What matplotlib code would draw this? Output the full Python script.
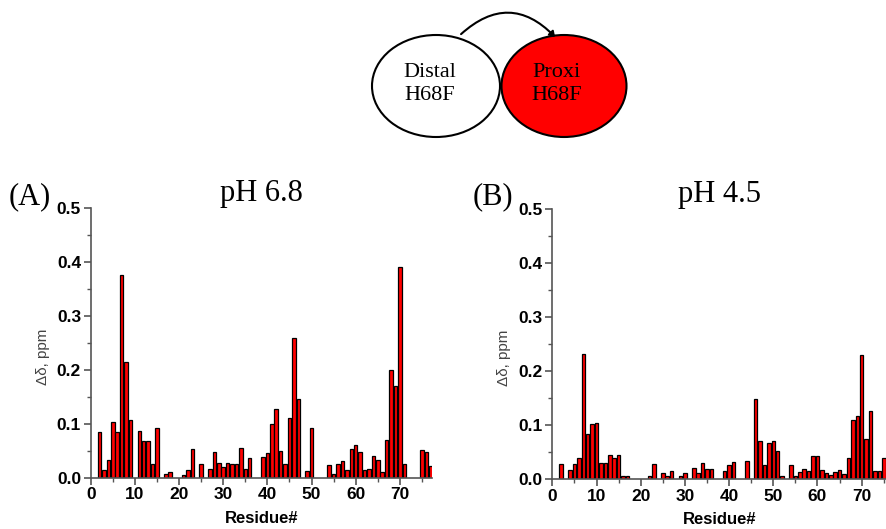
import numpy as np
import matplotlib
matplotlib.use("Agg")
import matplotlib.pyplot as plt
from matplotlib.patches import Ellipse, FancyArrowPatch
from matplotlib.ticker import MultipleLocator

# residue numbers and chemical shift changes (ppm)
res_a = [2, 3, 4, 5, 6, 7, 8, 9, 11, 12, 13, 14, 15, 17, 18, 21, 22, 23, 25,
         27, 28, 29, 30, 31, 32, 33, 34, 35, 36, 39, 40, 41, 42, 43, 44, 45,
         46, 47, 49, 50, 54, 55, 56, 57, 58, 59, 60, 61, 62, 63, 64, 65, 66,
         67, 68, 69, 70, 71, 75, 76, 77]
dd_a = [0.084, 0.014, 0.032, 0.104, 0.085, 0.377, 0.215, 0.108, 0.086, 0.069,
        0.069, 0.025, 0.093, 0.006, 0.010, 0.005, 0.014, 0.054, 0.025,
        0.016, 0.047, 0.027, 0.020, 0.027, 0.026, 0.025, 0.055, 0.016, 0.037,
        0.039, 0.045, 0.099, 0.127, 0.049, 0.025, 0.110, 0.259, 0.146,
        0.012, 0.093, 0.023, 0.006, 0.026, 0.031, 0.014, 0.053, 0.060, 0.047,
        0.014, 0.016, 0.040, 0.032, 0.010, 0.070, 0.200, 0.171, 0.392, 0.025,
        0.051, 0.048, 0.022]

res_b = [2, 4, 5, 6, 7, 8, 9, 10, 11, 12, 13, 14, 15, 16, 17, 22, 23, 25, 26,
         27, 29, 30, 32, 33, 34, 35, 36, 39, 40, 41, 44, 46, 47, 48, 49, 50,
         51, 52, 54, 55, 56, 57, 58, 59, 60, 61, 62, 63, 64, 65, 66, 67, 68,
         69, 70, 71, 72, 73, 74, 75]
dd_b = [0.027, 0.017, 0.027, 0.039, 0.231, 0.083, 0.101, 0.104, 0.030, 0.029,
        0.044, 0.039, 0.044, 0.006, 0.005, 0.006, 0.027, 0.012, 0.006,
        0.014, 0.006, 0.011, 0.020, 0.011, 0.029, 0.019, 0.019, 0.015, 0.026,
        0.032, 0.033, 0.148, 0.070, 0.026, 0.067, 0.070, 0.051, 0.005, 0.026,
        0.006, 0.013, 0.018, 0.015, 0.042, 0.043, 0.017, 0.011, 0.007, 0.013,
        0.017, 0.010, 0.039, 0.109, 0.117, 0.229, 0.075, 0.126, 0.015, 0.014,
        0.039]

panels = [("(A)", "pH 6.8", res_a, dd_a, 77.2),
          ("(B)", "pH 4.5", res_b, dd_b, 75.5)]

serif = "Liberation Serif"
sans = "Liberation Sans"

fig = plt.figure(figsize=(8.86, 5.29), dpi=100)

# domain cartoon at the top
top = fig.add_axes([0, 0, 1, 1])
top.set_xlim(0, 886)
top.set_ylim(529, 0)
top.axis("off")
top.add_patch(Ellipse((436, 86), 128, 102, facecolor="white", edgecolor="black", lw=1.5))
top.add_patch(Ellipse((564, 86), 125, 102, facecolor="#ff0000", edgecolor="black", lw=1.5))
top.text(430, 84, "Distal\nH68F", ha="center", va="center", fontsize=16,
         family=serif, linespacing=1.3)
top.text(557, 84, "Proxi\nH68F", ha="center", va="center", fontsize=16,
         family=serif, linespacing=1.3)
top.add_patch(FancyArrowPatch((459, 36), (557, 39), connectionstyle="arc3,rad=-0.5",
                              arrowstyle="-|>,head_length=3,head_width=2",
                              color="black", lw=1.5))

axes_pos = [[0.1024, 0.097, 0.3848, 0.5092], [0.6234, 0.0945, 0.3766, 0.5105]]
ylab_x = [-0.119, -0.125]

for (tag, title, res, dd, xmax), pos, lx in zip(panels, axes_pos, ylab_x):
    ax = fig.add_axes(pos)
    ax.bar(np.array(res) + 0.15, dd, width=0.8, color="#7a3030", edgecolor="none",
           alpha=0.5, zorder=1)
    ax.bar(res, dd, width=0.8, color="#ff0000", edgecolor="black", lw=0.9, zorder=2)
    ax.set_xlim(0, xmax)
    ax.set_ylim(0, 0.5)
    ax.xaxis.set_major_locator(MultipleLocator(10))
    ax.xaxis.set_minor_locator(MultipleLocator(5))
    ax.yaxis.set_minor_locator(MultipleLocator(0.05))
    ax.set_yticks(np.arange(0, 0.51, 0.1))
    ax.set_yticklabels([f"{v:.1f}" for v in np.arange(0, 0.51, 0.1)])
    for s in ["top", "right"]:
        ax.spines[s].set_visible(False)
    for s in ["left", "bottom"]:
        ax.spines[s].set_color("#555555")
        ax.spines[s].set_linewidth(1.2)
    ax.tick_params(which="major", direction="out", length=5, width=1.2, color="#555555",
                   labelsize=12.5, pad=2)
    ax.tick_params(which="minor", direction="out", length=3, width=1, color="#555555")
    for lbl in ax.get_xticklabels() + ax.get_yticklabels():
        lbl.set_family(sans)
        lbl.set_fontweight("bold")
    ax.set_xlabel("Residue#", family=sans, fontweight="bold", fontsize=12, labelpad=6)
    ax.set_ylabel("\u0394\u03b4, ppm", family=sans, fontsize=11, color="#444444")
    ax.yaxis.set_label_coords(lx, 0.448)
    ax.set_title(title, family=serif, fontsize=22, pad=0)
    ax.text(-0.24, 0.99, tag, transform=ax.transAxes, family=serif, fontsize=22,
            ha="left", va="bottom")

fig.savefig("out.png", dpi=100)
